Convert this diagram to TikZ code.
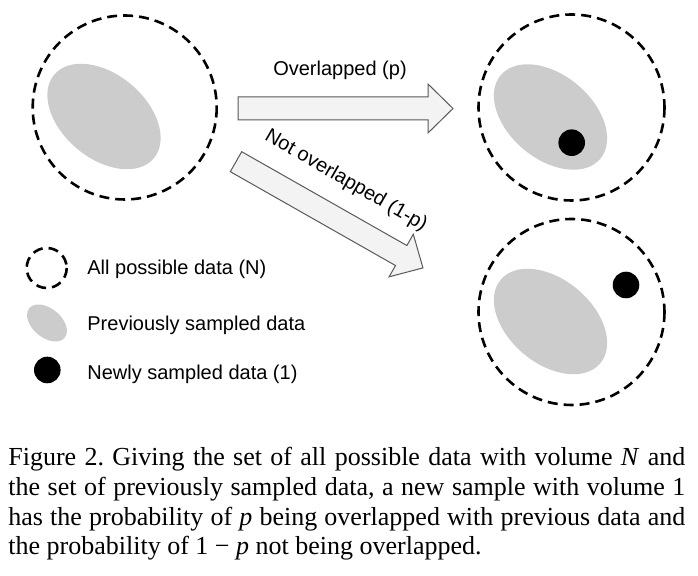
\documentclass[tikz,border=0pt]{standalone}
\usepackage{fontspec}
\setmainfont{Liberation Serif}
\newfontfamily\labelfont{Liberation Sans}
\usetikzlibrary{positioning}
\definecolor{prevgray}{HTML}{CCCCCC}
\definecolor{arrowfill}{HTML}{F3F3F3}
\definecolor{arrowline}{HTML}{595959}
\newcommand{\blockarrow}[3]{% #1 tail x, #2 tail y, #3 angle
  \begin{scope}[shift={(#1,#2)}, rotate=#3]
    \draw[arrowbox] (0,-11.5) -- (190,-11.5) -- (190,-24.5) -- (215,0) -- (190,24.5) -- (190,11.5) -- (0,11.5) -- cycle;
  \end{scope}
}
\newcommand{\prevblob}[4]{% #1 x, #2 y, #3 long radius, #4 short radius
  \fill[prevset, rotate around={-40:(#1,#2)}] (#1,#2) ellipse [x radius=#3, y radius=#4];
}

\begin{document}
\begin{tikzpicture}[x=0.5pt, y=-0.5pt,
    allset/.style={draw=black, line width=1.3pt, dash pattern=on 5pt off 3pt},
    prevset/.style={fill=prevgray},
    newdot/.style={fill=black},
    arrowbox/.style={draw=arrowline, fill=arrowfill, line width=0.5pt},
    arrowtext/.style={font=\labelfont\fontsize{10}{12}\selectfont, inner sep=0pt},
    legendtext/.style={font=\labelfont\fontsize{10}{12}\selectfont, anchor=west, inner sep=0pt},
    captiontext/.style={font=\fontsize{13}{14.85}\selectfont\frenchspacing, text width=338.5pt, align=justify, inner sep=0pt, anchor=north west}]
  \useasboundingbox (0,0) rectangle (698,576);

  % before sampling
  \draw[allset] (124.7,107.5) circle (92);
  \prevblob{104}{116.5}{65}{42}

  % overlapped case
  \draw[allset] (571.5,107.5) circle (93);
  \prevblob{550.5}{117}{65}{42}
  \fill[newdot] (571.7,142.7) circle (13.3);

  % not overlapped case
  \draw[allset] (571.5,312) circle (93);
  \prevblob{550.5}{321.5}{65}{42}
  \fill[newdot] (626,285) circle (13.3);

  % transitions
  \blockarrow{238}{108.5}{0}
  \blockarrow{236}{161.7}{-29.6}
  \node[arrowtext] (overlap) at (340,70) {Overlapped (p)};
  \node[arrowtext, rotate=-30] (notoverlap) at (346,181) {Not overlapped (1-p)};

  % legend
  \draw[allset] (46.7,268) circle (20);
  \prevblob{47}{323}{23}{14.5}
  \fill[newdot] (47.3,370) circle (13.3);
  \node[legendtext] (legall) at (87,269) {All possible data (N)};
  \node[legendtext] (legprev) at (87,325) {Previously sampled data};
  \node[legendtext] (legnew) at (87,374) {Newly sampled data (1)};

  % caption
  \node[captiontext] (caption) at (8,447) {Figure 2. Giving the set of all possible data with volume \textit{N} and\linebreak the set of previously sampled data, a new sample with volume 1\linebreak has the probability of \textit{p} being overlapped with previous data and\linebreak the probability of 1 − \textit{p} not being overlapped.};
\end{tikzpicture}
\end{document}
